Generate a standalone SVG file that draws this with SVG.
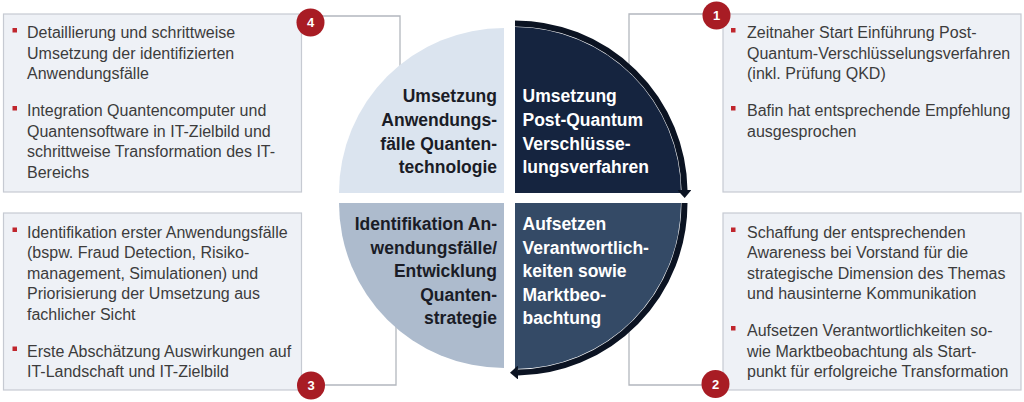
<svg xmlns="http://www.w3.org/2000/svg" width="1024" height="402" viewBox="0 0 1024 402">
<style>
.box{fill:#eef1f6;stroke:#c6cad2;stroke-width:1.2}
.conn{fill:none;stroke:#b3b7be;stroke-width:1.3}
.body{font-family:"Liberation Sans",Arial,sans-serif;font-size:16px;fill:#3c3c3c}
.bul{fill:#c0262d}
.badge{fill:#a81c24}
.num{font-family:"Liberation Sans",Arial,sans-serif;font-size:13px;font-weight:bold;fill:#fff;text-anchor:middle}
.qt{font-family:"Liberation Sans",Arial,sans-serif;font-size:17.5px;font-weight:bold}
.dark{fill:#1a1c26;text-anchor:end}
.light{fill:#ffffff}
.arc{fill:none;stroke:#0b1322;stroke-width:6}
</style>
<defs>
<marker id="ah" markerUnits="userSpaceOnUse" markerWidth="12" markerHeight="14" refX="0" refY="7" orient="auto" viewBox="0 0 12 14">
<path d="M0,0 L8,7 L0,14 Z" fill="#0b1322"/>
</marker>
</defs>
<rect width="1024" height="402" fill="#ffffff"/>

<g id="connectors">
<polyline class="conn" points="302,16 400,16 400,150"/>
<polyline class="conn" points="723,14 629,14 629,150"/>
<polyline class="conn" points="723,385 629,385 629,250"/>
<polyline class="conn" points="302,385 396,385 396,250"/>
</g>

<g id="box4">
<rect class="box" x="3.5" y="14" width="298" height="178"/>
<rect class="bul" x="12.5" y="28" width="4.5" height="4.5"/>
<rect class="bul" x="12.5" y="106" width="4.5" height="4.5"/>
<text class="body" x="27" y="38">Detaillierung und schrittweise</text>
<text class="body" x="27" y="58.5">Umsetzung der identifizierten</text>
<text class="body" x="27" y="79">Anwendungsfälle</text>
<text class="body" x="27" y="116">Integration Quantencomputer und</text>
<text class="body" x="27" y="136.7">Quantensoftware in IT-Zielbild und</text>
<text class="body" x="27" y="157.3">schrittweise Transformation des IT-</text>
<text class="body" x="27" y="178">Bereichs</text>
</g>

<g id="box1">
<rect class="box" x="723" y="14" width="298" height="178"/>
<rect class="bul" x="731" y="28" width="4.5" height="4.5"/>
<rect class="bul" x="731" y="106" width="4.5" height="4.5"/>
<text class="body" x="747" y="38">Zeitnaher Start Einführung Post-</text>
<text class="body" x="747" y="58.5">Quantum-Verschlüsselungsverfahren</text>
<text class="body" x="747" y="79">(inkl. Prüfung QKD)</text>
<text class="body" x="747" y="116">Bafin hat entsprechende Empfehlung</text>
<text class="body" x="747" y="136.7">ausgesprochen</text>
</g>

<g id="box3">
<rect class="box" x="3.5" y="213" width="298" height="177"/>
<rect class="bul" x="12.5" y="227.5" width="4.5" height="4.5"/>
<rect class="bul" x="12.5" y="346.5" width="4.5" height="4.5"/>
<text class="body" x="27" y="237.5">Identifikation erster Anwendungsfälle</text>
<text class="body" x="27" y="258">(bspw. Fraud Detection, Risiko-</text>
<text class="body" x="27" y="278.5">management, Simulationen) und</text>
<text class="body" x="27" y="299">Priorisierung der Umsetzung aus</text>
<text class="body" x="27" y="319.5">fachlicher Sicht</text>
<text class="body" x="27" y="356.5">Erste Abschätzung Auswirkungen auf</text>
<text class="body" x="27" y="377">IT-Landschaft und IT-Zielbild</text>
</g>

<g id="box2">
<rect class="box" x="723" y="213" width="298" height="177"/>
<rect class="bul" x="731" y="227.5" width="4.5" height="4.5"/>
<rect class="bul" x="731" y="326" width="4.5" height="4.5"/>
<text class="body" x="747" y="237.5">Schaffung der entsprechenden</text>
<text class="body" x="747" y="258">Awareness bei Vorstand für die</text>
<text class="body" x="747" y="278.5">strategische Dimension des Themas</text>
<text class="body" x="747" y="299">und hausinterne Kommunikation</text>
<text class="body" x="747" y="336">Aufsetzen Verantwortlichkeiten so-</text>
<text class="body" x="747" y="356.5">wie Marktbeobachtung als Start-</text>
<text class="body" x="747" y="377">punkt für erfolgreiche Transformation</text>
</g>

<g id="quadrant-tl">
<path d="M504,193 L504,28 A165,165 0 0 0 339,193 Z" fill="#dbe4ef"/>
<text class="qt dark" x="497" y="102">Umsetzung</text>
<text class="qt dark" x="497" y="126">Anwendungs-</text>
<text class="qt dark" x="497" y="149.5">fälle Quanten-</text>
<text class="qt dark" x="497" y="173">technologie</text>
</g>

<g id="quadrant-tr">
<path d="M515,193 L515,27 A166,166 0 0 1 681,193 Z" fill="#15243f"/>
<path class="arc" d="M515,23.5 A169.5,169.5 0 0 1 684.5,190" marker-end="url(#ah)"/>
<text class="qt light" x="522.5" y="102">Umsetzung</text>
<text class="qt light" x="522.5" y="126">Post-Quantum</text>
<text class="qt light" x="522.5" y="149.5">Verschlüsse-</text>
<text class="qt light" x="522.5" y="173">lungsverfahren</text>
</g>

<g id="quadrant-bl">
<path d="M504,203 L339,203 A165,165 0 0 0 504,368 Z" fill="#adbbcd"/>
<text class="qt dark" x="497" y="230">Identifikation An-</text>
<text class="qt dark" x="497" y="253.5">wendungsfälle/</text>
<text class="qt dark" x="497" y="277">Entwicklung</text>
<text class="qt dark" x="497" y="300.5">Quanten-</text>
<text class="qt dark" x="497" y="324">strategie</text>
</g>

<g id="quadrant-br">
<path d="M515,203 L681,203 A166,166 0 0 1 515,369 Z" fill="#344a66"/>
<path class="arc" d="M684.5,203 A169.5,169.5 0 0 1 518,372.5" marker-end="url(#ah)"/>
<text class="qt light" x="522.5" y="230">Aufsetzen</text>
<text class="qt light" x="522.5" y="253.5">Verantwortlich-</text>
<text class="qt light" x="522.5" y="277">keiten sowie</text>
<text class="qt light" x="522.5" y="300.5">Marktbeo-</text>
<text class="qt light" x="522.5" y="324">bachtung</text>
</g>

<g id="badge1">
<circle class="badge" cx="716.5" cy="15.5" r="14"/>
<text class="num" x="716.5" y="20">1</text>
</g>
<g id="badge2">
<circle class="badge" cx="715.5" cy="384" r="14"/>
<text class="num" x="715.5" y="388.5">2</text>
</g>
<g id="badge3">
<circle class="badge" cx="311" cy="385.5" r="14"/>
<text class="num" x="311" y="390">3</text>
</g>
<g id="badge4">
<circle class="badge" cx="310.5" cy="22.5" r="14"/>
<text class="num" x="310.5" y="27">4</text>
</g>
</svg>
